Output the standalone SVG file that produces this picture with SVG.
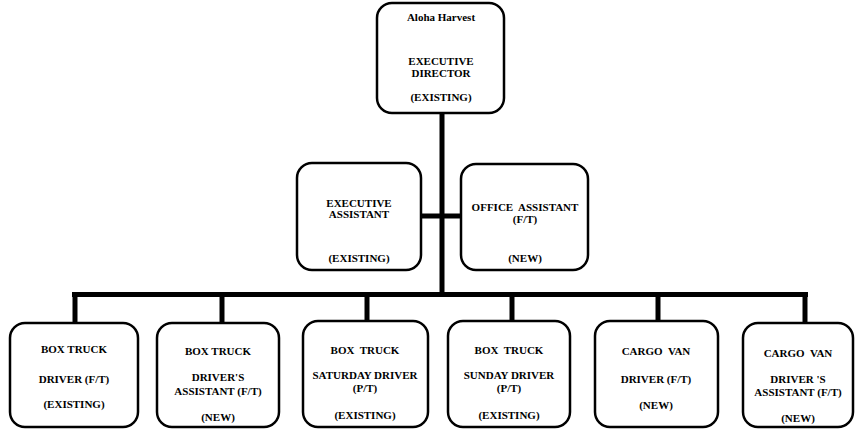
<svg xmlns="http://www.w3.org/2000/svg" width="856" height="429" viewBox="0 0 856 429">
<style>
.box{fill:#fff;stroke:#000;stroke-width:2.5}
.t{font-family:"Liberation Serif","Times New Roman",serif;font-size:11px;font-weight:bold;text-anchor:middle;fill:#000;white-space:pre}
.c{stroke:#000;stroke-width:5;fill:none}
</style>
<rect width="856" height="429" fill="#fff"/>
<g id="connectors">
<line class="c" x1="442" y1="112" x2="442" y2="296"/>
<line class="c" x1="420" y1="216" x2="462" y2="216"/>
<line class="c" x1="72" y1="294.5" x2="808" y2="294.5"/>
<line class="c" x1="75" y1="294" x2="75" y2="323"/>
<line class="c" x1="222" y1="294" x2="222" y2="323"/>
<line class="c" x1="367" y1="294" x2="367" y2="322"/>
<line class="c" x1="512" y1="294" x2="512" y2="322"/>
<line class="c" x1="658" y1="294" x2="658" y2="322"/>
<line class="c" x1="805" y1="294" x2="805" y2="323"/>
</g>
<g id="executive-director">
<rect class="box" x="377" y="3" width="127" height="110" rx="15"/>
<text class="t" x="441" y="21">Aloha Harvest</text>
<text class="t" x="441" y="65">EXECUTIVE</text>
<text class="t" x="441" y="77">DIRECTOR</text>
<text class="t" x="441" y="101">(EXISTING)</text>
</g>
<g id="executive-assistant">
<rect class="box" x="297" y="163" width="124" height="107" rx="15"/>
<text class="t" x="359" y="207">EXECUTIVE</text>
<text class="t" x="359" y="218">ASSISTANT</text>
<text class="t" x="359" y="262">(EXISTING)</text>
</g>
<g id="office-assistant">
<rect class="box" x="461" y="164" width="127" height="106" rx="15"/>
<text class="t" x="525" y="211">OFFICE  ASSISTANT</text>
<text class="t" x="525" y="223">(F/T)</text>
<text class="t" x="525" y="262">(NEW)</text>
</g>
<g id="box-truck-driver">
<rect class="box" x="10" y="323" width="128" height="104" rx="15"/>
<text class="t" x="74" y="353">BOX TRUCK</text>
<text class="t" x="74" y="383">DRIVER (F/T)</text>
<text class="t" x="74" y="408">(EXISTING)</text>
</g>
<g id="box-truck-drivers-assistant">
<rect class="box" x="157" y="323" width="122" height="104" rx="15"/>
<text class="t" x="218" y="355">BOX TRUCK</text>
<text class="t" x="218" y="381">DRIVER'S</text>
<text class="t" x="218" y="395">ASSISTANT (F/T)</text>
<text class="t" x="218" y="421">(NEW)</text>
</g>
<g id="box-truck-saturday-driver">
<rect class="box" x="303" y="321" width="125" height="106" rx="15"/>
<text class="t" x="365" y="354">BOX  TRUCK</text>
<text class="t" x="365" y="379">SATURDAY DRIVER</text>
<text class="t" x="365" y="392">(P/T)</text>
<text class="t" x="365" y="419">(EXISTING)</text>
</g>
<g id="box-truck-sunday-driver">
<rect class="box" x="448" y="321" width="122" height="106" rx="15"/>
<text class="t" x="509" y="354">BOX  TRUCK</text>
<text class="t" x="509" y="379">SUNDAY DRIVER</text>
<text class="t" x="509" y="392">(P/T)</text>
<text class="t" x="509" y="419">(EXISTING)</text>
</g>
<g id="cargo-van-driver">
<rect class="box" x="595" y="321" width="123" height="106" rx="15"/>
<text class="t" x="656" y="355">CARGO  VAN</text>
<text class="t" x="656" y="383">DRIVER (F/T)</text>
<text class="t" x="656" y="409">(NEW)</text>
</g>
<g id="cargo-van-drivers-assistant">
<rect class="box" x="743" y="323" width="110" height="104" rx="15"/>
<text class="t" x="798" y="357">CARGO  VAN</text>
<text class="t" x="798" y="383">DRIVER 'S</text>
<text class="t" x="798" y="396">ASSISTANT (F/T)</text>
<text class="t" x="798" y="422">(NEW)</text>
</g>
</svg>
